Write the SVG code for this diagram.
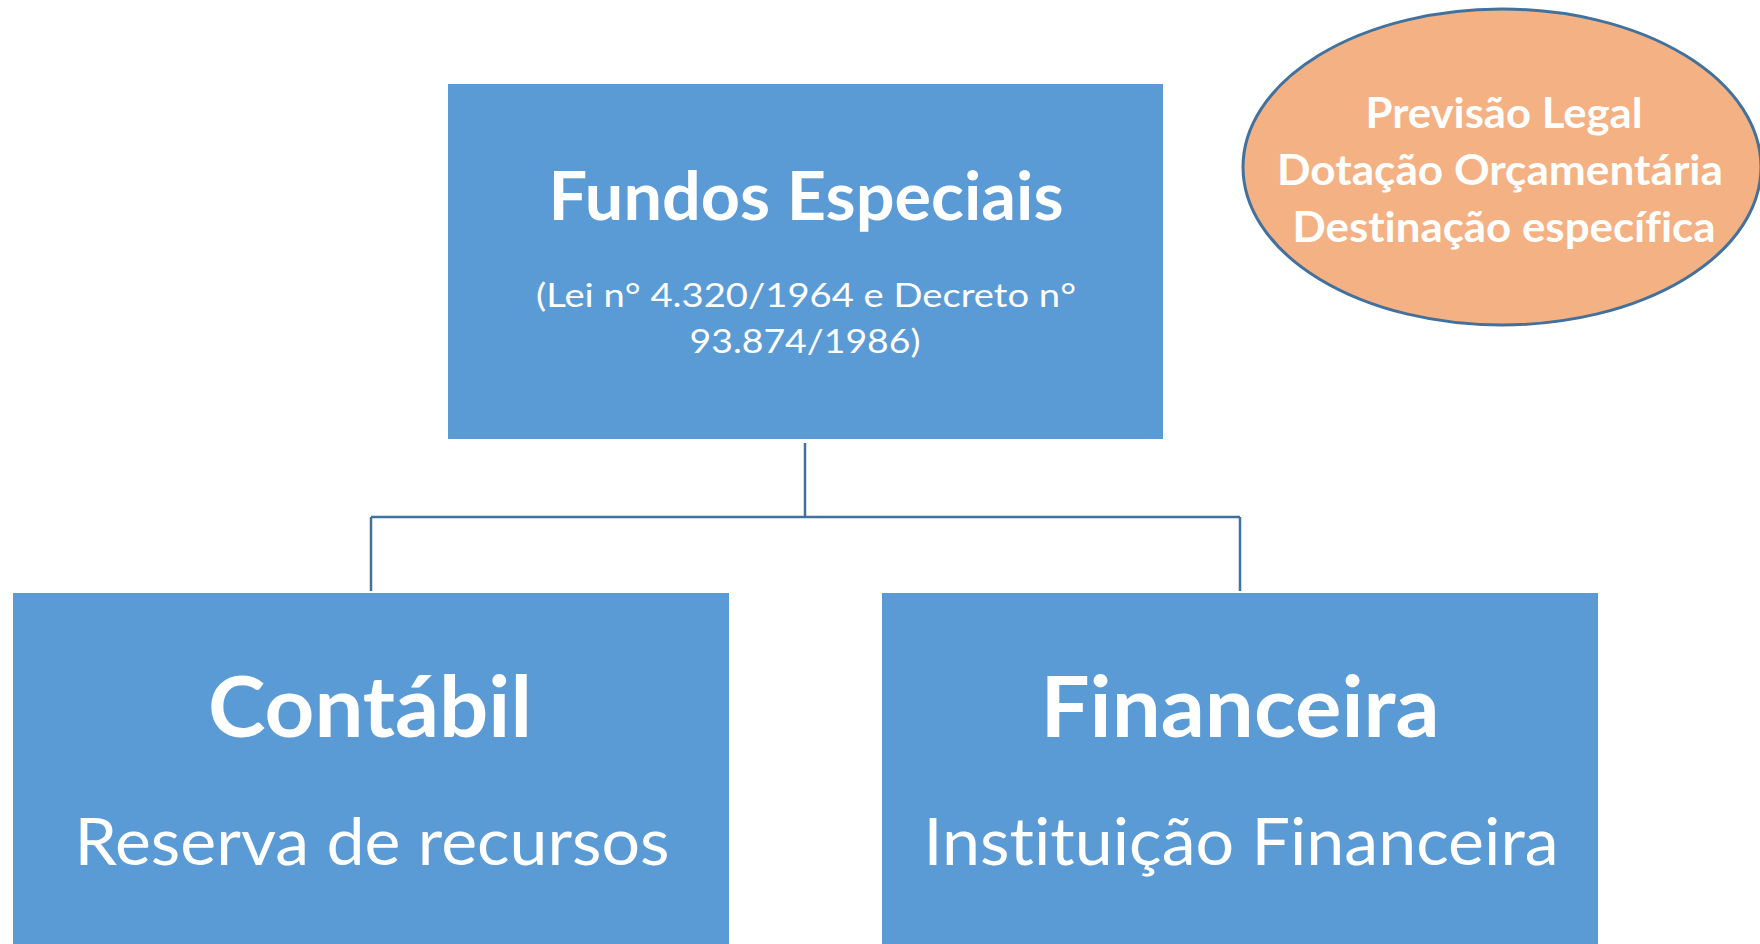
<svg xmlns="http://www.w3.org/2000/svg" width="1760" height="944" viewBox="0 0 1760 944">
<style>
.box{fill:#5B9BD5}
.t{font-family:Lato,"Open Sans","Liberation Sans",sans-serif;fill:#FFFFFF;text-anchor:middle;font-variant-ligatures:none;font-feature-settings:"liga" 0}
.b{font-weight:bold}
.conn{fill:none;stroke:#41719C;stroke-width:2.5}
</style>
<rect width="1760" height="944" fill="#FFFFFF"/>
<g id="connectors">
<path class="conn" d="M805,443 V517 M371,517 H1240 M371,517 V591 M1240,517 V591"/>
</g>
<g id="fundos">
<rect class="box" x="448" y="84" width="715" height="355"/>
<text class="t b" x="806" y="220" font-size="66" textLength="515" lengthAdjust="spacingAndGlyphs">Fundos Especiais</text>
<text class="t" x="806" y="307" font-size="33.5" textLength="540" lengthAdjust="spacingAndGlyphs">(Lei n° 4.320/1964 e Decreto n°</text>
<text class="t" x="805" y="353" font-size="33.5" textLength="231" lengthAdjust="spacingAndGlyphs">93.874/1986)</text>
</g>
<g id="requisitos">
<ellipse cx="1502" cy="167" rx="259" ry="158" fill="#F4B183" stroke="#41719C" stroke-width="3"/>
<text class="t b" x="1504" y="128" font-size="42" textLength="277" lengthAdjust="spacingAndGlyphs">Previsão Legal</text>
<text class="t b" x="1500" y="185" font-size="42" textLength="446" lengthAdjust="spacingAndGlyphs">Dotação Orçamentária</text>
<text class="t b" x="1504" y="242" font-size="42" textLength="423" lengthAdjust="spacingAndGlyphs">Destinação específica</text>
</g>
<g id="contabil">
<rect class="box" x="13" y="593" width="716" height="360"/>
<text class="t b" x="370" y="737" font-size="85" textLength="324" lengthAdjust="spacingAndGlyphs">Contábil</text>
<text class="t" x="372" y="865" font-size="66" textLength="595" lengthAdjust="spacingAndGlyphs">Reserva de recursos</text>
</g>
<g id="financeira">
<rect class="box" x="882" y="593" width="716" height="360"/>
<text class="t b" x="1240" y="737" font-size="85" textLength="399" lengthAdjust="spacingAndGlyphs">Financeira</text>
<text class="t" x="1241" y="865" font-size="66" textLength="635" lengthAdjust="spacingAndGlyphs">Instituição Financeira</text>
</g>
</svg>
